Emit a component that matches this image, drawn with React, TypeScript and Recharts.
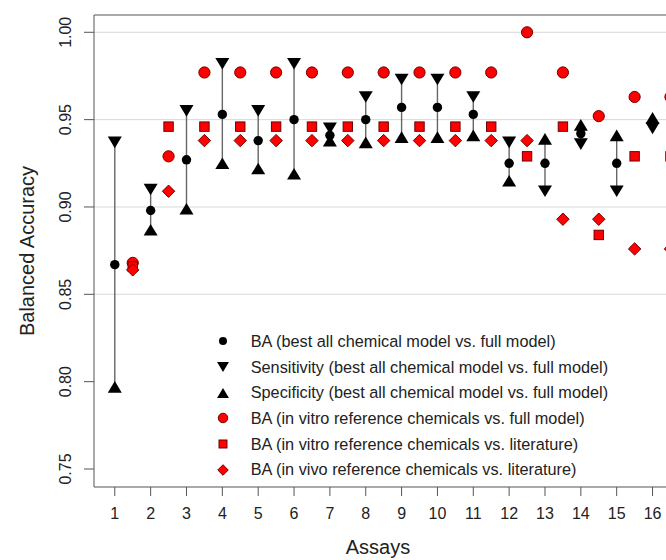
import React from 'react';
import { ScatterChart, Scatter, XAxis, YAxis, ReferenceLine, ErrorBar, Legend } from 'recharts';

// ---------- data ----------
const assays = [1, 2, 3, 4, 5, 6, 7, 8, 9, 10, 11, 12, 13, 14, 15, 16];
const tickLabels = ['1', '2', '3', '4', '5', '6', '7', '8', '9', '10', '11', '12', '13', '14', '15', '16'];
const yTicks = [0.75, 0.8, 0.85, 0.9, 0.95, 1.0];
const gridValues = [0.85, 0.9, 0.95, 1.0];

// best all chemical model vs. full model
const baBest = [0.867, 0.898, 0.927, 0.953, 0.938, 0.95, 0.941, 0.95, 0.957, 0.957, 0.953, 0.925, 0.925, 0.942, 0.925, 0.948];
const sensBest = [0.937, 0.91, 0.955, 0.982, 0.955, 0.982, 0.945, 0.963, 0.973, 0.973, 0.963, 0.937, 0.909, 0.936, 0.909, 0.945];
const specBest = [0.797, 0.887, 0.899, 0.925, 0.922, 0.919, 0.938, 0.937, 0.94, 0.94, 0.941, 0.915, 0.939, 0.947, 0.941, 0.951];

// reference chemicals (plotted half a step to the right)
const redAssays = [1.5, 2.5, 3.5, 4.5, 5.5, 6.5, 7.5, 8.5, 9.5, 10.5, 11.5, 12.5, 13.5, 14.5, 15.5, 16.5];
const baVitroFull = [0.868, 0.929, 0.977, 0.977, 0.977, 0.977, 0.977, 0.977, 0.977, 0.977, 0.977, 1.0, 0.977, 0.952, 0.963, 0.963];
const baVitroLit = [0.866, 0.946, 0.946, 0.946, 0.946, 0.946, 0.946, 0.946, 0.946, 0.946, 0.946, 0.929, 0.946, 0.884, 0.929, 0.929];
const baVivoLit = [0.864, 0.909, 0.938, 0.938, 0.938, 0.938, 0.938, 0.938, 0.938, 0.938, 0.938, 0.938, 0.893, 0.893, 0.876, 0.876];

const legendLabels = [
  'BA (best all chemical model vs. full model)',
  'Sensitivity (best all chemical model vs. full model)',
  'Specificity (best all chemical model vs. full model)',
  'BA (in vitro reference chemicals vs. full model)',
  'BA (in vitro reference chemicals vs. literature)',
  'BA (in vivo reference chemicals vs. literature)',
];
const legendKinds = ['ba', 'sens', 'spec', 'rcircle', 'rsquare', 'rdiamond'];

const X_DOMAIN: [number, number] = [0.42, 17.324];
const Y_DOMAIN: [number, number] = [0.7397, 1.0099];

// ---------- tables ----------
const baData = assays.map((a, i) => ({
  x: a,
  y: baBest[i],
  err: [baBest[i] - Math.min(sensBest[i], specBest[i]), Math.max(sensBest[i], specBest[i]) - baBest[i]],
}));
const sensData = assays.map((a, i) => ({ x: a, y: sensBest[i] }));
const specData = assays.map((a, i) => ({ x: a, y: specBest[i] }));
const vitroFullData = redAssays.map((a, i) => ({ x: a, y: baVitroFull[i] }));
const vitroLitData = redAssays.map((a, i) => ({ x: a, y: baVitroLit[i] }));
const vivoLitData = redAssays.map((a, i) => ({ x: a, y: baVivoLit[i] }));

// ---------- markers ----------
const RED = '#ff0000';
const RED_EDGE = '#6e0000';
const FONT = "'Liberation Sans', Arial, sans-serif";

function marker(kind: string, cx: number, cy: number, s = 1) {
  switch (kind) {
    case 'ba':
      return <circle cx={cx} cy={cy} r={4.7 * s} fill="#000" />;
    case 'sens': {
      const w = 7 * s, h = 5.8 * s;
      return <polygon points={`${cx - w},${cy - h} ${cx + w},${cy - h} ${cx},${cy + h}`} fill="#000" />;
    }
    case 'spec': {
      const w = 7 * s, h = 5.8 * s;
      return <polygon points={`${cx - w},${cy + h} ${cx + w},${cy + h} ${cx},${cy - h}`} fill="#000" />;
    }
    case 'rcircle':
      return <circle cx={cx} cy={cy} r={5.6 * s} fill={RED} stroke={RED_EDGE} strokeWidth={1} />;
    case 'rsquare': {
      const h = 4.7 * s;
      return <rect x={cx - h} y={cy - h} width={2 * h} height={2 * h} fill={RED} stroke={RED_EDGE} strokeWidth={1} />;
    }
    case 'rdiamond': {
      const h = 6.2 * s;
      return (
        <polygon
          points={`${cx},${cy - h} ${cx + h},${cy} ${cx},${cy + h} ${cx - h},${cy}`}
          fill={RED}
          stroke={RED_EDGE}
          strokeWidth={1}
        />
      );
    }
    default:
      return null;
  }
}

const shapeOf = (kind: string) => (p: any) => marker(kind, p.cx, p.cy);

const YTick = (props: any) => {
  const { x, y, payload } = props;
  return (
    <text
      x={x}
      y={y}
      transform={`rotate(-90 ${x} ${y})`}
      textAnchor="middle"
      fontSize={16}
      fill="#222"
      fontFamily={FONT}
    >
      {Number(payload.value).toFixed(2)}
    </text>
  );
};

const renderLegend = () => (
  <div style={{ fontFamily: FONT, fontSize: 16.3, color: '#222' }}>
    {legendLabels.map((label, i) => (
      <div key={label} style={{ display: 'flex', alignItems: 'center', height: 25.68, whiteSpace: 'nowrap' }}>
        <svg width={16} height={16} style={{ marginRight: 20, overflow: 'visible' }}>
          {marker(legendKinds[i], 8, 8, 0.85)}
        </svg>
        <span>{label}</span>
      </div>
    ))}
  </div>
);

export default function App() {
  return (
    <div
      style={{
        position: 'fixed',
        left: 0,
        top: 0,
        width: 666,
        height: 560,
        overflow: 'hidden',
        background: '#fff',
        fontFamily: FONT,
      }}
    >
      <ScatterChart width={720} height={560} margin={{ top: 15, right: 20, bottom: 0, left: 0 }}>
        {gridValues.map((v) => (
          <ReferenceLine key={`g${v}`} y={v} stroke="#d9d9d9" strokeWidth={1} />
        ))}
        <ReferenceLine y={Y_DOMAIN[1]} stroke="#555" strokeWidth={1} />
        <XAxis
          type="number"
          dataKey="x"
          domain={X_DOMAIN}
          allowDataOverflow
          ticks={assays}
          tickFormatter={(v: number, i: number) => tickLabels[i]}
          height={73}
          tickSize={9}
          tickMargin={12}
          interval={0}
          stroke="#555"
          tick={{ fill: '#222', fontSize: 16, fontFamily: FONT }}
          label={{
            content: () => (
              <text x={378} y={554} textAnchor="middle" fontSize={20} fill="#222" fontFamily={FONT}>
                Assays
              </text>
            ),
          }}
        />
        <YAxis
          type="number"
          dataKey="y"
          domain={Y_DOMAIN}
          allowDataOverflow
          ticks={yTicks}
          width={94}
          tickSize={10}
          tickMargin={13}
          interval={0}
          stroke="#555"
          tick={<YTick />}
          label={{
            content: () => (
              <text
                x={34}
                y={251}
                transform="rotate(-90 34 251)"
                textAnchor="middle"
                fontSize={20}
                fill="#222"
                fontFamily={FONT}
              >
                Balanced Accuracy
              </text>
            ),
          }}
        />
        <Scatter name="ba" data={baData} shape={shapeOf('ba')} isAnimationActive={false}>
          <ErrorBar dataKey="err" direction="y" width={0} stroke="#666" strokeWidth={1.4} />
        </Scatter>
        <Scatter name="sens" data={sensData} shape={shapeOf('sens')} isAnimationActive={false} />
        <Scatter name="spec" data={specData} shape={shapeOf('spec')} isAnimationActive={false} />
        <Scatter name="vitroFull" data={vitroFullData} shape={shapeOf('rcircle')} isAnimationActive={false} />
        <Scatter name="vitroLit" data={vitroLitData} shape={shapeOf('rsquare')} isAnimationActive={false} />
        <Scatter name="vivoLit" data={vivoLitData} shape={shapeOf('rdiamond')} isAnimationActive={false} />
        <Legend
          layout="vertical"
          verticalAlign="middle"
          align="center"
          content={renderLegend}
          wrapperStyle={{ left: 214.7, top: 328.5, width: 460, height: 160 }}
        />
      </ScatterChart>
    </div>
  );
}
